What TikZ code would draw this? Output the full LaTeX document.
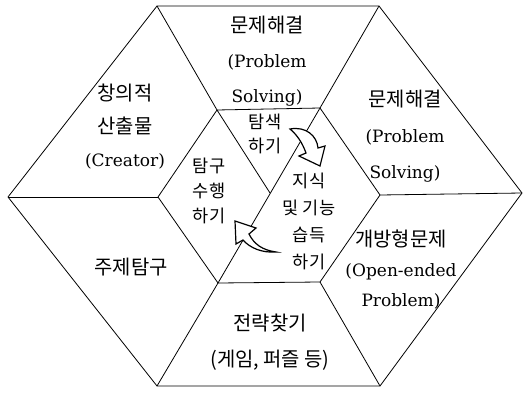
\documentclass[tikz,border=0pt]{standalone}
\usepackage{fontspec}
\setmainfont{DejaVu Serif}
\newfontfamily\kr[Scale=1.17]{Noto Sans CJK KR}
\begin{document}
\begin{tikzpicture}[x=1pt,y=-1pt,line width=0.8pt,line join=round,
  outerlbl/.style={align=center,inner sep=0pt},
  blockarrow/.style={draw=black,fill=white,line width=1.2pt,line join=miter}]
\useasboundingbox (0,0) rectangle (524,393);
% outer hexagon
\coordinate (o1) at (157,6);
\coordinate (o2) at (379,6);
\coordinate (o3) at (522,193);
\coordinate (o4) at (380,386);
\coordinate (o5) at (157,386);
\coordinate (o6) at (8,197);
% inner hexagon
\coordinate (i1) at (217,110);
\coordinate (i2) at (320,108);
\coordinate (i3) at (380,195);
\coordinate (i4) at (320,282);
\coordinate (i5) at (218,283);
\coordinate (i6) at (158,197);
\coordinate (c) at (270,193);
\draw (o1) -- (o2) -- (o3) -- (o4) -- (o5) -- (o6) -- cycle;
\draw (i1) -- (i2) -- (i3) -- (i4) -- (i5) -- (i6) -- cycle;
\draw (o1) -- (i1);
\draw (o2) -- (i2);
\draw (o3) -- (i3);
\draw (o4) -- (i4);
\draw (o5) -- (i5);
\draw (o6) -- (i6);
\draw (i2) -- (i5);
\draw (i1) -- (c);
% outer labels
\node[outerlbl,font=\fontsize{17}{35}\selectfont] (top) at (267,61) {{\kr 문제해결}\\(Problem\\Solving)};
\node[outerlbl,font=\fontsize{17}{36}\selectfont] (ur) at (405,136) {{\kr 문제해결}\\(Problem\\Solving)};
\node[outerlbl,font=\fontsize{17}{30}\selectfont] (lr) at (401,270) {{\kr 개방형문제}\\(Open-ended\\Problem)};
\node[outerlbl,font=\fontsize{17}{36}\selectfont] (bot) at (270,342) {{\kr 전략찾기}\\{\kr (게임, 퍼즐 등)}};
\node[outerlbl,font=\fontsize{17}{33}\selectfont] (ll) at (131,267) {{\kr 주제탐구}};
\node[outerlbl,font=\fontsize{17}{33}\selectfont] (ul) at (125,127) {{\kr 창의적}\\{\kr 산출물}\\(Creator)};
% inner labels
\node[outerlbl,font=\fontsize{15}{24}\selectfont] (explore) at (265,134) {{\kr 탐색}\\{\kr 하기}};
\node[outerlbl,font=\fontsize{15}{25}\selectfont] (inquiry) at (209,191) {{\kr 탐구}\\{\kr 수행}\\{\kr 하기}};
\node[outerlbl,font=\fontsize{15}{27}\selectfont] (skill) at (309,221) {{\kr 지식}\\{\kr 및 기능}\\{\kr 습득}\\{\kr 하기}};
% curved block arrows
\coordinate (a1tail) at (290,129);
\coordinate (a1tip) at (320,166);
\draw[blockarrow] (a1tail) .. controls (306,126) and (317,136) .. (318,148)
  -- (325,146) -- (a1tip) -- (299,156) -- (306,153)
  .. controls (302,142) and (297,135) .. (a1tail) -- cycle;
\coordinate (a2tail) at (276,252);
\coordinate (a2tip) at (235,221);
\draw[blockarrow] (a2tip) -- (256,228) -- (249,234)
  .. controls (254,244) and (262,250) .. (a2tail)
  .. controls (262,253) and (250,248) .. (243,240)
  -- (236,244) -- cycle;
\end{tikzpicture}
\end{document}
